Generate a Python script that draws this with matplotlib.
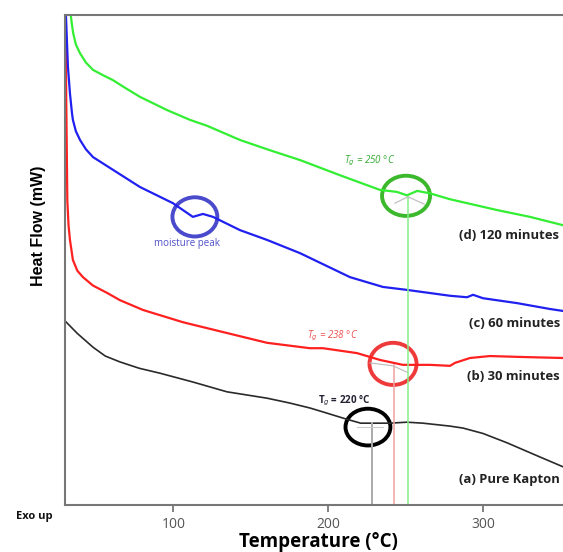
import numpy as np
import matplotlib.pyplot as plt
from matplotlib.patches import Ellipse

# DSC curves (arbitrary heat-flow units, 0-100)
t_d = [33.7, 34.5, 35.3, 37.0, 39.7, 43.5, 48.1, 54.0, 61.0, 69.0, 78.4, 95.9, 110.7,
       121.7, 143.0, 162.4, 181.8, 207.6, 233.5, 244.4, 250.9, 257.5, 265.8, 278.7,
       309.0, 330.4, 351.7]
hf_d = [100, 98.0, 96.3, 94.0, 92.2, 90.3, 88.8, 87.8, 86.7, 85.1, 83.3, 80.6, 78.6,
        77.4, 74.5, 72.4, 70.4, 67.3, 64.3, 63.9, 63.2, 64.1, 63.6, 62.4,
        60.2, 58.8, 57.1]

t_c = [30.6, 31.9, 33.2, 34.5, 35.1, 37.0, 39.7, 43.5, 48.1, 61.0, 78.4, 99.7, 112.6,
       119.1, 125.6, 143.0, 160.5, 181.8, 214.1, 235.4, 250.9, 278.7, 289.7, 293.6,
       300.0, 322.0, 343.3, 351.7]
hf_c = [100, 89.4, 84.0, 80.0, 78.6, 76.3, 74.5, 72.6, 71.0, 68.4, 64.9, 61.6, 58.8,
        59.4, 58.8, 56.1, 54.1, 51.4, 46.5, 44.5, 43.9, 42.7, 42.4, 42.9,
        42.2, 41.2, 40.0, 39.6]

t_b = [30.3, 30.8, 31.5, 32.3, 33.2, 35.1, 38.0, 41.6, 48.0, 57.1, 65.5, 80.4, 106.2,
       134.6, 160.5, 188.2, 196.6, 218.6, 233.5, 248.3, 265.8, 278.7, 281.9, 291.6,
       304.5, 325.8, 351.7]
hf_b = [100, 82.7, 62.2, 57.0, 54.1, 50.0, 47.8, 46.5, 44.8, 43.3, 41.8, 39.8, 37.3,
        35.1, 33.1, 32.0, 32.0, 31.0, 29.6, 28.6, 28.6, 28.4, 29.0, 30.0,
        30.4, 30.2, 30.0]

t_a = [29.3, 38.0, 48.1, 56.0, 65.5, 78.0, 91.3, 112.6, 134.6, 160.5, 175.3, 188.2,
       196.6, 211.0, 221.0, 239.9, 250.9, 261.2, 278.7, 287.1, 300.0, 315.5, 336.8,
       351.7]
hf_a = [37.8, 35.0, 32.2, 30.4, 29.2, 27.9, 26.9, 25.1, 23.1, 21.8, 20.8, 19.8,
        19.0, 17.6, 16.7, 16.7, 16.9, 16.7, 16.1, 15.7, 14.6, 12.7, 9.8, 7.8]

tg_a, tg_b, tg_d = 228.3, 242.5, 251.5

fig = plt.figure(figsize=(5.63, 5.52), dpi=100)
ax = fig.add_axes([65 / 563, 47 / 552, 1 - 65 / 563, 490 / 552])

ax.plot(t_a, hf_a, color='#2a2a2a', lw=1.2)
ax.plot(t_b, hf_b, color='#ff2020', lw=1.6)
ax.plot(t_c, hf_c, color='#2020f0', lw=1.6)
ax.plot(t_d, hf_d, color='#33ee33', lw=1.6)

# Tg drop lines
ax.plot([tg_a, tg_a], [0, 16.7], color='#aaaaaa', lw=1.4)
ax.plot([tg_b, tg_b], [0, 28.6], color='#f2a0a0', lw=1.1)
ax.plot([tg_d, tg_d], [0, 62.9], color='#88ee88', lw=1.1)

# tangent construction lines
ax.plot([243.1, 251.5, 262.1], [61.6, 62.9, 61.4], color='#bbbbbb', lw=0.8)
ax.plot([227.0, 241.9, 251.0], [29.0, 28.4, 27.1], color='#bbbbbb', lw=0.8)
ax.plot([218.6, 235.4], [15.9, 15.9], color='#cccccc', lw=0.8)

# circles
for cx, cy, w, h, col in [(250.3, 63.1, 31, 8.2, '#3cb82c'),
                          (241.9, 28.8, 30.4, 8.6, '#ee3a3a'),
                          (225.7, 15.9, 29, 7.5, '#000000'),
                          (113.9, 58.8, 29, 8.0, '#4a4acc')]:
    ax.add_patch(Ellipse((cx, cy), w, h, fill=False, edgecolor=col, lw=2.8))

ax.text(227.0, 70.2, r'T$_g$ = 250 °C', color='#33aa33', fontsize=7,
        style='italic', ha='center', va='center', family='Open Sans')
ax.text(203.1, 34.5, r'T$_g$ = 238 °C', color='#ee5050', fontsize=7,
        style='italic', ha='center', va='center', family='Open Sans')
ax.text(210.2, 21.4, r'T$_g$ = 220 °C', color='#222233', fontsize=7,
        ha='center', va='center', family='Open Sans', weight='bold')
ax.text(108.8, 53.3, 'moisture peak', color='#5050c8', fontsize=7,
        ha='center', va='center', family='Open Sans')

lab = dict(fontsize=9.4, weight='bold', family='Open Sans', color='#222222',
           ha='left', va='center')
ax.text(284.5, 54.9, '(d) 120 minutes', **lab)
ax.text(291.0, 37.1, '(c) 60 minutes', **lab)
ax.text(289.5, 26.3, '(b) 30 minutes', **lab)
ax.text(284.5, 5.3, '(a) Pure Kapton', **lab)

ax.set_xlim(30, 351.7)
ax.set_ylim(0, 100)
ax.set_xticks([100, 200, 300])
ax.set_yticks([])
ax.tick_params(axis='x', direction='out', length=5, width=1.3, color='#777777',
               labelsize=10, labelcolor='#555555', pad=4)
for lbl in ax.get_xticklabels():
    lbl.set_family('Open Sans')
for s in ['left', 'bottom', 'top']:
    ax.spines[s].set_color('#777777')
    ax.spines[s].set_linewidth(1.5)
ax.spines['right'].set_visible(False)

fig.text(38 / 563, 1 - 226 / 552, 'Heat Flow (mW)', rotation=90, ha='center',
         va='center', fontsize=11.5, weight='bold', family='Liberation Sans')
fig.text(34.5 / 563, 1 - 517 / 552, 'Exo up', ha='center', va='center',
         fontsize=8, weight='bold', family='Open Sans', color='#111111')
fig.text(318 / 563, 1 - 542 / 552, 'Temperature (°C)', ha='center', va='center',
         fontsize=13.5, weight='bold', family='Open Sans')

fig.savefig('out.png', dpi=100)
